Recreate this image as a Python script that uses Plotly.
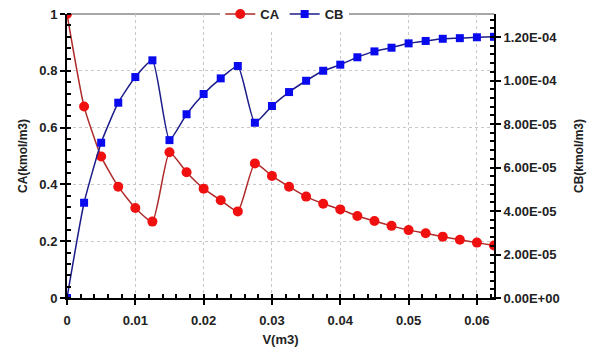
import plotly.graph_objects as go

V = [i * 0.0025 for i in range(26)]
CA = [1.0, 0.674, 0.498, 0.392, 0.317, 0.269, 0.513, 0.443, 0.385, 0.344, 0.305,
      0.474, 0.430, 0.392, 0.357, 0.332, 0.312, 0.289, 0.271, 0.254, 0.239,
      0.228, 0.216, 0.205, 0.195, 0.185]
CB = [0.0, 4.38e-5, 7.14e-5, 8.98e-5, 1.016e-4, 1.093e-4, 7.26e-5, 8.45e-5, 9.38e-5,
      1.010e-4, 1.067e-4, 8.06e-5, 8.83e-5, 9.47e-5, 9.99e-5, 1.045e-4, 1.073e-4,
      1.107e-4, 1.134e-4, 1.151e-4, 1.171e-4, 1.182e-4, 1.192e-4, 1.195e-4,
      1.199e-4, 1.201e-4]

x_ticks = [0, 0.01, 0.02, 0.03, 0.04, 0.05, 0.06]
x_labels = ["0", "0.01", "0.02", "0.03", "0.04", "0.05", "0.06"]
ya_ticks = [0, 0.2, 0.4, 0.6, 0.8, 1.0]
ya_labels = ["0", "0.2", "0.4", "0.6", "0.8", "1"]
yb_ticks = [0, 2e-5, 4e-5, 6e-5, 8e-5, 1e-4, 1.2e-4]
yb_labels = [f"{v:.2E}" for v in yb_ticks]

FONT = "Liberation Sans, Arial, sans-serif"


def bold(labels):
    return [f"<b>{t}</b>" for t in labels]


fig = go.Figure()
fig.add_trace(go.Scatter(
    x=V, y=CA, name="<b>CA</b>", mode="lines+markers",
    line=dict(color="#b02a2a", width=1.5, shape="spline", smoothing=0.5),
    marker=dict(color="#f01010", size=10, symbol="circle"),
))
fig.add_trace(go.Scatter(
    x=V, y=CB, name="<b>CB</b>", mode="lines+markers", yaxis="y2",
    line=dict(color="#1c1c8a", width=1.5, shape="spline", smoothing=0.5),
    marker=dict(color="#0a0aee", size=8, symbol="square"),
))

axis_common = dict(
    showline=True, linecolor="black", linewidth=2,
    ticks="outside", ticklen=5, tickwidth=2, tickcolor="black",
    tickfont=dict(family=FONT, size=13, color="#222"),
    zeroline=False, automargin=True, ticklabeloverflow="allow",
)

fig.update_layout(
    width=589, height=348,
    margin=dict(l=59, r=103, t=6, b=58, autoexpand=False),
    paper_bgcolor="white", plot_bgcolor="white",
    font=dict(family=FONT, color="#222"),
    showlegend=True,
    legend=dict(orientation="h", x=0.51, xanchor="center", y=1.0, yanchor="middle",
                bgcolor="white", font=dict(family=FONT, size=13, color="#222"),
                itemwidth=30, tracegroupgap=0),
    xaxis=dict(
        range=[0, 0.0625], tickvals=x_ticks, ticktext=bold(x_labels),
        ticklabelstandoff=4,
        showgrid=True, gridcolor="#c8c8c8", griddash="dot", gridwidth=1,
        minor=dict(dtick=0.002, tick0=0, ticks="inside", ticklen=4, tickwidth=1.5,
                   tickcolor="black", showgrid=False),
        title=dict(text="<b>V(m3)</b>", font=dict(family=FONT, size=13, color="#222"),
                   standoff=8),
        **axis_common,
    ),
    yaxis=dict(
        range=[0, 1.0], tickvals=ya_ticks, ticktext=bold(ya_labels),
        showgrid=True, gridcolor="#c8c8c8", griddash="dot", gridwidth=1,
        minor=dict(dtick=0.04, tick0=0, ticks="inside", ticklen=4, tickwidth=1.5,
                   tickcolor="black", showgrid=False),
        title=dict(text="<b>CA(kmol/m3)</b>", font=dict(family=FONT, size=12, color="#222"),
                   standoff=9),
        **axis_common,
    ),
    yaxis2=dict(
        overlaying="y", side="right", anchor="x",
        range=[0, 1.306e-4], tickvals=yb_ticks, ticktext=bold(yb_labels),
        showgrid=False,
        minor=dict(dtick=4e-6, tick0=0, ticks="inside", ticklen=4, tickwidth=1.5,
                   tickcolor="black", showgrid=False),
        title=dict(text="<b>CB(kmol/m3)</b>", font=dict(family=FONT, size=12, color="#222"),
                   standoff=16),
        **axis_common,
    ),
)

fig.add_shape(type="line", xref="paper", yref="paper", x0=0, x1=1, y0=1, y1=1,
              line=dict(color="#8a8a8a", width=1.5), layer="below")

fig.write_html("out.html")
